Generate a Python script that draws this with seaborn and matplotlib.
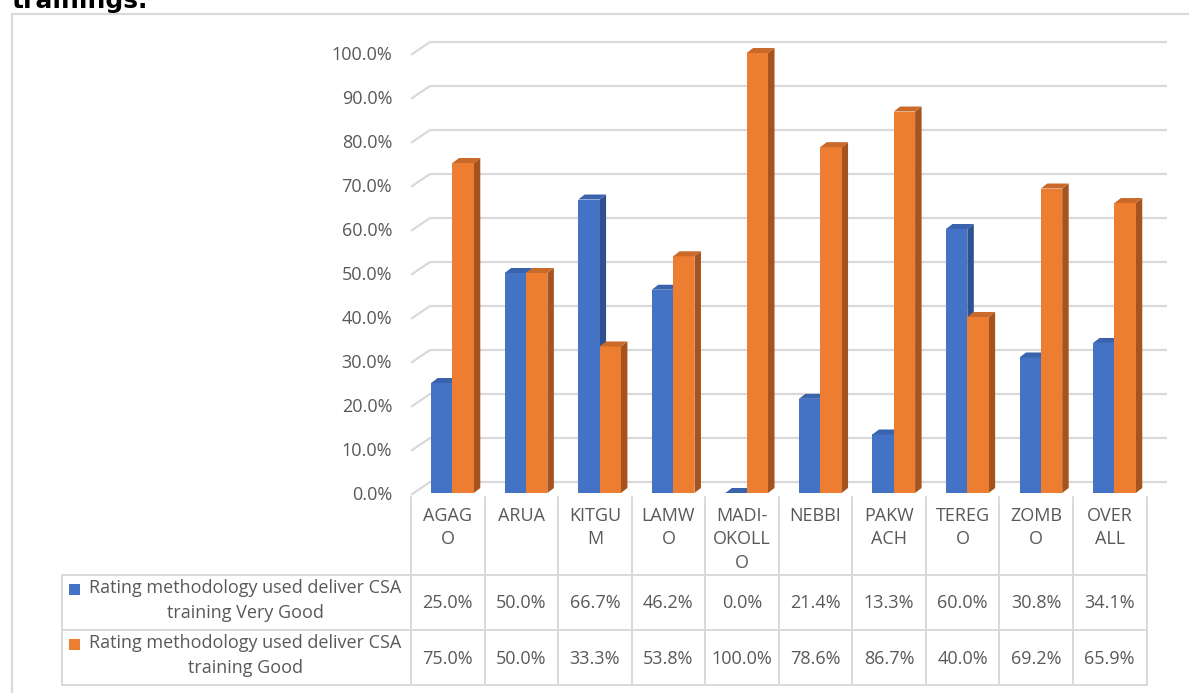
import numpy as np
import pandas as pd
import matplotlib
matplotlib.use("Agg")
import matplotlib.pyplot as plt
from matplotlib.patches import Polygon, Rectangle
import seaborn as sns

# ---- data -------------------------------------------------------------
regions = ["AGAGO", "ARUA", "KITGUM", "LAMWO", "MADI-OKOLLO",
           "NEBBI", "PAKWACH", "TEREGO", "ZOMBO", "OVERALL"]
tick_labels = ["AGAG\nO", "ARUA", "KITGU\nM", "LAMW\nO", "MADI-\nOKOLL\nO",
               "NEBBI", "PAKW\nACH", "TEREG\nO", "ZOMB\nO", "OVER\nALL"]
very_good = [25.0, 50.0, 66.7, 46.2, 0.0, 21.4, 13.3, 60.0, 30.8, 34.1]
good = [75.0, 50.0, 33.3, 53.8, 100.0, 78.6, 86.7, 40.0, 69.2, 65.9]
series_names = ["Rating methodology used deliver CSA\ntraining Very Good",
                "Rating methodology used deliver CSA\ntraining Good"]
y_ticks = [0, 10, 20, 30, 40, 50, 60, 70, 80, 90, 100]
title = "trainings."

# ---- styling ----------------------------------------------------------
sns.set_theme(style="white")
plt.rcParams["font.family"] = ["Open Sans", "DejaVu Sans"]
TXT = "#595959"
GRID = "#D9D9D9"
front_cols = ["#4472C4", "#ED7D31"]
side_cols = ["#2F528F", "#A5541F"]
top_cols = ["#3A63AE", "#C9692A"]
FS = 13

W, H = 1189, 693
fig = plt.figure(figsize=(W / 100, H / 100), dpi=100)

# full-figure canvas in pixel units for frame and data table
bg = fig.add_axes([0, 0, 1, 1], zorder=0)
bg.set_xlim(0, W)
bg.set_ylim(H, 0)
bg.axis("off")

# plot area geometry (pixels)
x_left, x_right = 411, 1146.5
y_base, y_full = 493, 53
col_w = (x_right - x_left) / len(regions)

ax = fig.add_axes([x_left / W, (H - y_base) / H,
                   (x_right - x_left) / W, (y_base - y_full) / H], zorder=1)
ax.patch.set_visible(False)

# pixel offsets of the 3D depth converted to data units
bar_dx, bar_dy = 6.5 / col_w, 5.0 / (y_base - y_full)
wall_dx, wall_dy = 19.0 / col_w, 11.0 / (y_base - y_full)
pair_shift = 4.7 / col_w

df = pd.DataFrame({
    "pos": np.tile(np.arange(len(regions)) + pair_shift, 2),
    "value": np.concatenate([very_good, good]) / 100.0,
    "series": [series_names[0]] * len(regions) + [series_names[1]] * len(regions),
})

sns.barplot(data=df, x="pos", y="value", hue="series", hue_order=series_names,
            palette=front_cols, native_scale=True, width=0.58, dodge=True,
            errorbar=None, legend=False, linewidth=0, saturation=1, ax=ax)

ax.set_xlim(-0.5, len(regions) - 0.5)
ax.set_ylim(0, 1)
for s in ax.spines.values():
    s.set_visible(False)
ax.set_xticks([])
ax.set_xlabel("")
ax.set_ylabel("")
ax.set_yticks([t / 100 for t in y_ticks])
ax.set_yticklabels([f"{t:.1f}%" for t in y_ticks])
ax.tick_params(axis="y", length=0, pad=13.5, labelsize=FS, labelcolor=TXT)

# back wall gridlines with the short side-wall segment
for t in y_ticks:
    v = t / 100
    ax.plot([-0.5, -0.5 + wall_dx, len(regions) - 0.5 + 20.5 / col_w],
            [v - 0.004, v + wall_dy, v + wall_dy],
            color=GRID, lw=1.6, zorder=0.5, clip_on=False, solid_capstyle="butt")

# extrude each bar: side and top faces
for p in list(ax.patches):
    fc = p.get_facecolor()
    k = 0 if np.allclose(fc[:3], matplotlib.colors.to_rgb(front_cols[0]), atol=0.02) else 1
    x0, w, h = p.get_x(), p.get_width(), p.get_height()
    x1 = x0 + w
    p.set_zorder(2 + k)
    p.set_clip_on(False)
    side = Polygon([(x1, 0), (x1 + bar_dx, bar_dy), (x1 + bar_dx, h + bar_dy), (x1, h)],
                   closed=True, facecolor=side_cols[k], edgecolor="none",
                   zorder=1.9 + k, clip_on=False)
    top = Polygon([(x0, h), (x0 + bar_dx, h + bar_dy), (x1 + bar_dx, h + bar_dy), (x1, h)],
                  closed=True, facecolor=top_cols[k], edgecolor="none",
                  zorder=2.1 + k, clip_on=False)
    ax.add_patch(side)
    ax.add_patch(top)

# ---- title and chart frame ---------------------------------------------
fig.text(12 / W, (H - 8) / H, title, fontsize=18, fontweight="bold",
         family="DejaVu Sans", color="black", ha="left", va="baseline")
bg.plot([12, 12, W + 5], [H + 5, 14, 14], color=GRID, lw=1.6, clip_on=False)

# ---- data table ---------------------------------------------------------
edges = [x_left + i * col_w for i in range(len(regions) + 1)]
tab_top, row1, row2, tab_bot = 497, 575, 630, 685
leg_left = 62
lw_t = 1.4
for xe in edges:
    bg.plot([xe, xe], [tab_top, tab_bot], color=GRID, lw=lw_t)
for ye in (row1, row2, tab_bot):
    bg.plot([leg_left, edges[-1]], [ye, ye], color=GRID, lw=lw_t)
bg.plot([leg_left, leg_left], [row1, tab_bot], color=GRID, lw=lw_t)

for i, lab in enumerate(tick_labels):
    cx = (edges[i] + edges[i + 1]) / 2
    for j, line in enumerate(lab.split("\n")):
        bg.text(cx, 516 + j * 23.5, line, ha="center", va="center",
                fontsize=FS, color=TXT)
    bg.text(cx, 603, f"{very_good[i]:.1f}%", ha="center", va="center",
            fontsize=FS, color=TXT)
    bg.text(cx, 659, f"{good[i]:.1f}%", ha="center", va="center",
            fontsize=FS, color=TXT)

for k, (name, ytop) in enumerate(zip(series_names, (row1, row2))):
    l1, l2 = name.split("\n")
    bg.text(245, ytop + 13, l1, ha="center", va="center", fontsize=FS, color=TXT)
    bg.text(245, ytop + 38, l2, ha="center", va="center", fontsize=FS, color=TXT)
    bg.add_patch(Rectangle((69, ytop + 9), 11, 11, facecolor=front_cols[k],
                           edgecolor="none"))

fig.savefig("out.png", dpi=100)
